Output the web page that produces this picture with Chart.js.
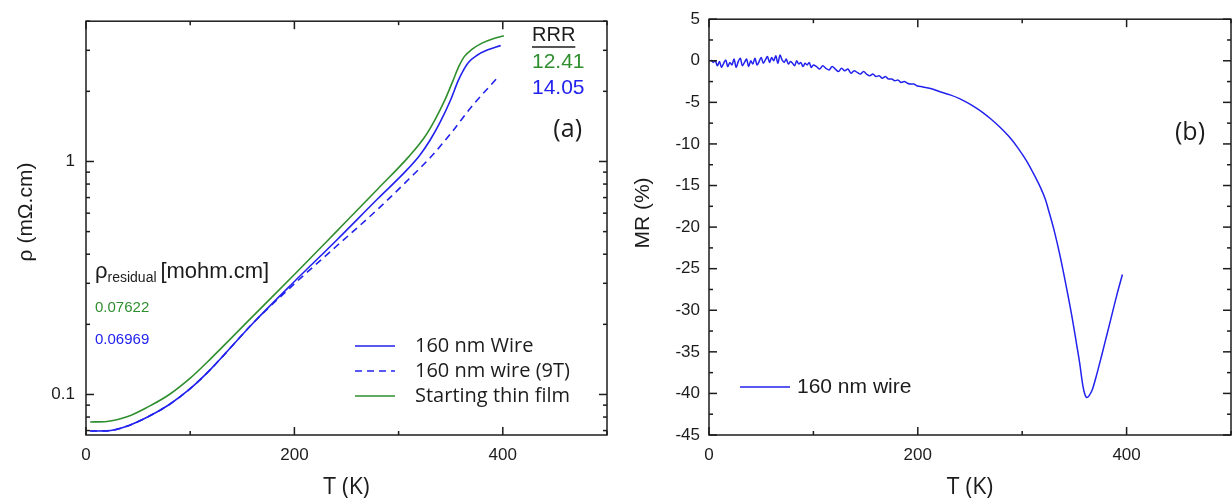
<!DOCTYPE html>
<html lang="en">
<head>
<meta charset="UTF-8">
<title>Resistivity and MR of 160 nm wire</title>
<script src="https://cdn.jsdelivr.net/npm/chart.js"></script>
<style>
  body { margin: 0; background: #fff; }
  #wrap { position: relative; width: 1232px; height: 503px; }
  canvas { position: absolute; top: 0; }
</style>
</head>
<body>
<div id="wrap">
  <canvas id="chartA" width="616" height="503" style="left:0"></canvas>
  <canvas id="chartB" width="616" height="503" style="left:616px"></canvas>
</div>
<script>
// ---- panel (a): resistivity vs temperature ----
const wireT   = [4, 20, 40, 60, 80, 100, 120, 160, 200, 240, 280, 305, 320, 330, 340, 350, 357, 362, 367, 375, 385, 398];
const wireRho = [0.0697, 0.0698, 0.0733, 0.0804, 0.0906, 0.1059, 0.1288, 0.2018, 0.3055, 0.4571, 0.6918,
                 0.891, 1.059, 1.230, 1.479, 1.841, 2.213, 2.455, 2.661, 2.851, 3.006, 3.148];

const wire9T_T   = [4, 20, 40, 60, 80, 100, 120, 160, 200, 240, 280, 310, 330, 350, 370, 395];
const wire9T_Rho = [0.0697, 0.0698, 0.0733, 0.0804, 0.0906, 0.1059, 0.1288, 0.2018, 0.2985, 0.4315, 0.6237,
                    0.8414, 1.035, 1.318, 1.718, 2.291];

const filmT   = [4, 20, 40, 60, 80, 100, 120, 160, 200, 240, 280, 310, 325, 335, 345, 352, 358, 363, 370, 380, 390, 401];
const filmRho = [0.0762, 0.0766, 0.0804, 0.0887, 0.100, 0.1175, 0.1429, 0.2163, 0.3273, 0.4989, 0.762,
                 1.052, 1.274, 1.514, 1.862, 2.213, 2.570, 2.818, 3.020, 3.221, 3.357, 3.467];

const seriesNames = ['160 nm Wire', '160 nm wire (9T)', 'Starting thin film'];
const rrrValues = ['12.41', '14.05'];
const residualValues = ['0.07622', '0.06969'];

const xTicks = [0, 200, 400];
const xMinorTicks = [100, 300, 500];
const rhoTicks = [0.1, 1];
const rhoMinorTicks = [0.07, 0.08, 0.09, 0.2, 0.3, 0.4, 0.5, 0.6, 0.7, 0.8, 0.9, 2, 3, 4];

// ---- panel (b): magnetoresistance vs temperature ----
const mrT = [2, 4, 6, 8, 10, 12, 14, 16, 18, 20, 22, 24, 26, 28, 30, 32, 34, 36, 38, 40,
             42, 44, 46, 48, 50, 52, 54, 56, 58, 60, 62, 64, 66, 68, 70, 72, 74, 76, 78, 80,
             82, 84, 86, 88, 90, 92, 94, 96, 98, 100,
             103, 106, 109, 112, 115, 118, 121, 124, 127, 130, 133, 136, 139, 142, 145, 148,
             151, 154, 157, 160, 163, 166, 169, 172, 175, 178, 181, 184, 187, 190, 193, 196, 199,
             205, 214, 222, 231, 240, 247, 255, 262, 270, 278, 288, 296, 304, 311, 317, 322, 326,
             331, 336, 342, 348, 352, 355, 358, 360, 362, 364, 367, 371, 376, 381, 386, 391, 396];
const mrVal = [0.1, -0.2, 0.0, -0.6, -0.1, -0.8, -0.3, 0.1, -0.7, -0.2,
               -0.5, 0.2, -0.8, -0.1, 0.3, -0.6, -0.2, 0.2, -0.7, 0.0,
               -0.4, 0.3, -0.5, -0.1, 0.4, -0.3, 0.1, 0.5, -0.2, 0.4,
               0.0, 0.6, -0.3, 0.7, 0.1, -0.2, 0.2, -0.4, -0.1, -0.3,
               -0.6, 0.0, -0.4, -0.2, -0.7, -0.3, -0.5, -0.2, -0.8, -0.5,
               -0.7, -1.0, -0.6, -0.9, -1.1, -0.7, -1.0, -1.3, -0.9, -1.2,
               -1.0, -1.5, -1.2, -1.4, -1.6, -1.3, -1.6, -1.8, -1.6, -1.9,
               -1.8, -2.1, -1.9, -2.2, -2.2, -2.4, -2.3, -2.6, -2.5, -2.7,
               -2.8, -2.8, -3.0,
               -3.15, -3.4, -3.75, -4.1, -4.55, -5.0, -5.6, -6.2, -7.0, -7.9, -9.2, -10.5, -12.0, -13.6, -15.1, -16.6, -18.3,
               -20.6, -23.3, -27.0, -31.0, -34.0, -36.3, -39.0, -40.1, -40.5, -40.3, -39.6, -37.9, -35.5, -33.0, -30.5, -28.0, -25.7];
const mrName = '160 nm wire';

const mrTicks = [-45, -40, -35, -30, -25, -20, -15, -10, -5, 0, 5];
const mrMinorTicks = [-42.5, -37.5, -32.5, -27.5, -22.5, -17.5, -12.5, -7.5, -2.5, 2.5];

const BLUE = '#2222ee';
const GREEN = '#2f8f2f';
const INK = '#1c1c1c';
const TICK_FONT = { family: 'Liberation Sans', size: 17 };

function pts(xs, ys) {
  return xs.map((v, i) => ({ x: v, y: ys[i] }));
}

// box around the plot with inward ticks on all four sides
const frameTicks = {
  id: 'frameTicks',
  afterDatasetsDraw(chart, args, o) {
    const { ctx, chartArea: a } = chart;
    const x = chart.scales.x, y = chart.scales.y;
    ctx.save();
    ctx.strokeStyle = INK;
    ctx.lineWidth = 1.5;
    function seg(x1, y1, x2, y2) {
      ctx.beginPath(); ctx.moveTo(x1, y1); ctx.lineTo(x2, y2); ctx.stroke();
    }
    o.xMajor.forEach(v => { const p = x.getPixelForValue(v); seg(p, a.bottom, p, a.bottom - 8); seg(p, a.top, p, a.top + 8); });
    o.xMinor.forEach(v => { const p = x.getPixelForValue(v); seg(p, a.bottom, p, a.bottom - 4); seg(p, a.top, p, a.top + 4); });
    o.yMajor.forEach(v => { const p = y.getPixelForValue(v); seg(a.left, p, a.left + 8, p); seg(a.right, p, a.right - 8, p); });
    o.yMinor.forEach(v => { const p = y.getPixelForValue(v); seg(a.left, p, a.left + 4, p); seg(a.right, p, a.right - 4, p); });
    ctx.strokeRect(a.left, a.top, a.right - a.left, a.bottom - a.top);
    ctx.restore();
  }
};

// free text, rotated axis titles and hand-made legends
const notes = {
  id: 'notes',
  afterDraw(chart, args, o) {
    const ctx = chart.ctx;
    ctx.save();
    ctx.textBaseline = 'middle';
    (o.texts || []).forEach(t => {
      const parts = t.parts || [{ text: t.text, font: t.font, dy: 0 }];
      let w = 0;
      parts.forEach(p => { ctx.font = p.font; w += ctx.measureText(p.text).width; });
      ctx.save();
      ctx.translate(t.x, t.y);
      if (t.rotate) ctx.rotate(t.rotate);
      let cx = 0;
      if (t.align === 'right') cx = -w;
      if (t.align === 'center') cx = -w / 2;
      const startX = cx;
      ctx.textAlign = 'left';
      parts.forEach(p => {
        ctx.font = p.font;
        ctx.fillStyle = t.color || INK;
        ctx.fillText(p.text, cx, p.dy || 0);
        cx += ctx.measureText(p.text).width;
      });
      if (t.underline) {
        ctx.strokeStyle = t.color || INK;
        ctx.lineWidth = 1.3;
        ctx.beginPath(); ctx.moveTo(startX, 12); ctx.lineTo(cx, 12); ctx.stroke();
      }
      ctx.restore();
    });
    (o.legend || []).forEach(l => {
      const ds = chart.data.datasets[l.index];
      ctx.strokeStyle = ds.borderColor;
      ctx.lineWidth = ds.borderWidth;
      ctx.setLineDash(ds.borderDash || []);
      ctx.beginPath(); ctx.moveTo(l.x1, l.y); ctx.lineTo(l.x2, l.y); ctx.stroke();
      ctx.setLineDash([]);
      ctx.font = l.font;
      ctx.fillStyle = INK;
      ctx.textAlign = 'left';
      ctx.fillText(ds.label, l.tx, l.y);
    });
    ctx.restore();
  }
};

function xScale(plotHeight) {
  return {
    type: 'linear', min: 0, max: 500,
    afterFit: s => { s.height = plotHeight; },
    afterBuildTicks: s => { s.ticks = xTicks.map(v => ({ value: v })); },
    grid: { display: false, drawTicks: false },
    border: { display: false },
    ticks: { font: TICK_FONT, color: INK, padding: 10, maxRotation: 0 },
    title: { display: true, text: 'T (K)', color: INK, font: { family: 'Open Sans', size: 23 }, padding: { bottom: 2, top: 0 } }
  };
}

new Chart(document.getElementById('chartA'), {
  type: 'line',
  data: {
    datasets: [
      { label: seriesNames[0], data: pts(wireT, wireRho), borderColor: BLUE, borderWidth: 1.6, cubicInterpolationMode: 'monotone' },
      { label: seriesNames[1], data: pts(wire9T_T, wire9T_Rho), borderColor: BLUE, borderWidth: 1.6, borderDash: [7, 5], cubicInterpolationMode: 'monotone' },
      { label: seriesNames[2], data: pts(filmT, filmRho), borderColor: GREEN, borderWidth: 1.6, cubicInterpolationMode: 'monotone' }
    ]
  },
  options: {
    responsive: false, animation: false, devicePixelRatio: 1,
    elements: { point: { radius: 0 } },
    layout: { padding: { left: 0, right: 9, top: 14, bottom: 0 } },
    scales: {
      x: xScale(68),
      y: {
        type: 'logarithmic', min: 0.067, max: 4,
        afterFit: s => { s.width = 86; },
        afterBuildTicks: s => { s.ticks = rhoTicks.map(v => ({ value: v })); },
        grid: { display: false, drawTicks: false },
        border: { display: false },
        ticks: { font: TICK_FONT, color: INK, padding: 11, callback: v => String(v) }
      }
    },
    plugins: {
      legend: { display: false },
      tooltip: { enabled: false },
      frameTicks: { xMajor: xTicks, xMinor: xMinorTicks, yMajor: rhoTicks, yMinor: rhoMinorTicks },
      notes: {
        texts: [
          { text: 'ρ (mΩ.cm)', x: 26, y: 212, rotate: -Math.PI / 2, align: 'center', font: '21px "Liberation Sans"' },
          { text: 'RRR', x: 532, y: 35, font: '20px "Liberation Sans"', underline: true },
          { text: rrrValues[0], x: 532, y: 62, font: '21px "Liberation Sans"', color: GREEN },
          { text: rrrValues[1], x: 532, y: 88, font: '21px "Liberation Sans"', color: BLUE },
          { text: '(a)', x: 582, y: 130, align: 'right', font: '25px "Open Sans"' },
          { x: 95, y: 272, parts: [
            { text: 'ρ', font: '22px "Liberation Sans"', dy: 0 },
            { text: 'residual ', font: '14px "Liberation Sans"', dy: 6 },
            { text: '[mohm.cm]', font: '22px "Liberation Sans"', dy: 0 }
          ] },
          { text: residualValues[0], x: 95, y: 308, font: '15px "Liberation Sans"', color: GREEN },
          { text: residualValues[1], x: 95, y: 340, font: '15px "Liberation Sans"', color: BLUE }
        ],
        legend: [
          { index: 0, x1: 355, x2: 395, y: 346, tx: 415, font: '20px "Open Sans"' },
          { index: 1, x1: 355, x2: 395, y: 371, tx: 415, font: '20px "Open Sans"' },
          { index: 2, x1: 355, x2: 395, y: 396, tx: 415, font: '20px "Open Sans"' }
        ]
      }
    }
  },
  plugins: [frameTicks, notes]
});

new Chart(document.getElementById('chartB'), {
  type: 'line',
  data: {
    datasets: [
      { label: mrName, data: pts(mrT, mrVal), borderColor: BLUE, borderWidth: 1.5, cubicInterpolationMode: 'monotone' }
    ]
  },
  options: {
    responsive: false, animation: false, devicePixelRatio: 1,
    elements: { point: { radius: 0 } },
    layout: { padding: { left: 0, right: 1, top: 14, bottom: 0 } },
    scales: {
      x: xScale(68),
      y: {
        type: 'linear', min: -45, max: 5,
        afterFit: s => { s.width = 93; },
        afterBuildTicks: s => { s.ticks = mrTicks.map(v => ({ value: v })); },
        grid: { display: false, drawTicks: false },
        border: { display: false },
        ticks: { font: TICK_FONT, color: INK, padding: 9 }
      }
    },
    plugins: {
      legend: { display: false },
      tooltip: { enabled: false },
      frameTicks: { xMajor: xTicks, xMinor: xMinorTicks, yMajor: mrTicks, yMinor: mrMinorTicks },
      notes: {
        texts: [
          { text: 'MR (%)', x: 27, y: 213, rotate: -Math.PI / 2, align: 'center', font: '21px "Liberation Sans"' },
          { text: '(b)', x: 589, y: 133, align: 'right', font: '25px "Open Sans"' }
        ],
        legend: [
          { index: 0, x1: 124, x2: 174, y: 387, tx: 181, font: '21px "Liberation Sans"' }
        ]
      }
    }
  },
  plugins: [frameTicks, notes]
});
</script>
</body>
</html>
